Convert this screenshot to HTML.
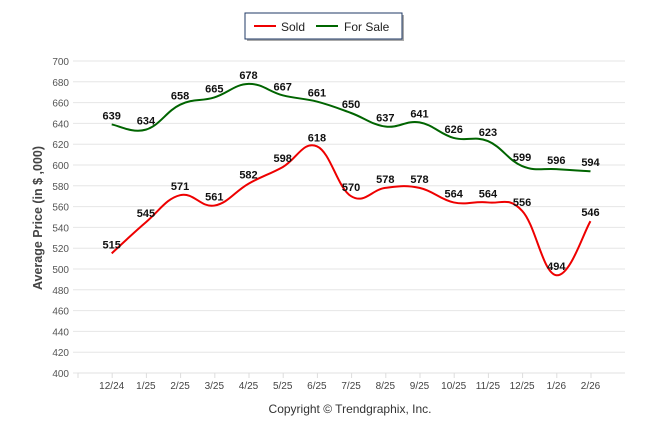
<!DOCTYPE html>
<html><head><meta charset="utf-8"><style>
body{margin:0;background:#fff;font-family:"Liberation Sans",Arial,sans-serif}
svg text{font-family:"Liberation Sans",Arial,sans-serif}
</style></head><body>
<svg id="c" width="646" height="434" viewBox="0 0 646 434">
<g>
<rect x="247" y="15" width="157" height="26" fill="#555" opacity="0.5"/>
<rect x="245" y="13" width="157" height="26" fill="#fff" stroke="#1f3864" stroke-width="1"/>
<line x1="254" y1="26" x2="276" y2="26" stroke="#e00" stroke-width="2"/>
<text x="281" y="31" font-size="12" fill="#222">Sold</text>
<line x1="316" y1="26" x2="338" y2="26" stroke="#060" stroke-width="2"/>
<text x="344" y="31" font-size="12" fill="#222">For Sale</text>
</g>
<g id="grid"></g><g id="series"></g>
<text transform="translate(42,218) rotate(-90)" text-anchor="middle" font-size="12.5" font-weight="bold" fill="#444">Average Price (in $ ,000)</text>
<text x="350" y="413" text-anchor="middle" font-size="12" fill="#333">Copyright © Trendgraphix, Inc.</text>
</svg>
<script>
const categories=["12/24","1/25","2/25","3/25","4/25","5/25","6/25","7/25","8/25","9/25","10/25","11/25","12/25","1/26","2/26"];
const sold=[515,545,571,561,582,598,618,570,578,578,564,564,556,494,546];
const forSale=[639,634,658,665,678,667,661,650,637,641,626,623,599,596,594];
const yTicks=[400,420,440,460,480,500,520,540,560,580,600,620,640,660,680,700];
const NS="http://www.w3.org/2000/svg";
const x=i=>111.7+i*34.2, y=v=>373-(v-400)*1.04;
function mk(t,a,p){const e=document.createElementNS(NS,t);for(const k in a)e.setAttribute(k,a[k]);p.appendChild(e);return e;}
const g=document.getElementById('grid'), s=document.getElementById('series');
yTicks.forEach(v=>{
 const l=mk('line',{x1:73,x2:625,y1:y(v),y2:y(v),stroke:'#e6e6e6'},g);
 
 
 const t=mk('text',{x:69,y:y(v)+4,'text-anchor':'end','font-size':10,fill:'#555'},g);t.textContent=v;
 
 
});
mk('line',{x1:77.5,x2:625,y1:373,y2:373,stroke:'#e0e0e0'},g);
for(let i=-1;i<categories.length;i++){mk('line',{x1:x(i)+0.5,x2:x(i)+0.5,y1:373,y2:378,stroke:'#ddd'},g);}
categories.forEach((c,i)=>{const t=mk('text',{x:x(i),y:389,'text-anchor':'middle','font-size':10,fill:'#444'},g);t.textContent=c;
 
 });
function path(vals){const p=vals.map((v,i)=>[x(i),y(v)]);let d='M'+p[0];const k=0.2;
 for(let i=0;i<p.length-1;i++){const a=p[i-1]||p[i],b=p[i],c=p[i+1],e=p[i+2]||c;
 d+=' C'+(b[0]+(c[0]-a[0])*k)+','+(b[1]+(c[1]-a[1])*k)+' '+(c[0]-(e[0]-b[0])*k)+','+(c[1]-(e[1]-b[1])*k)+' '+c[0]+','+c[1];}return d;}
[[forSale,'#006400','for-sale'],[sold,'#ee0000','sold']].forEach(([vals,col,nm])=>{
 const pth=mk('path',{d:path(vals),fill:'none',stroke:col,'stroke-width':2},s);
 
 
 vals.forEach((v,i)=>{const t=mk('text',{x:x(i),y:y(v)-5,'text-anchor':'middle','font-size':11,'font-weight':'bold',fill:'#111'},s);t.textContent=v;
 
 });
});
</script>
</body></html>
